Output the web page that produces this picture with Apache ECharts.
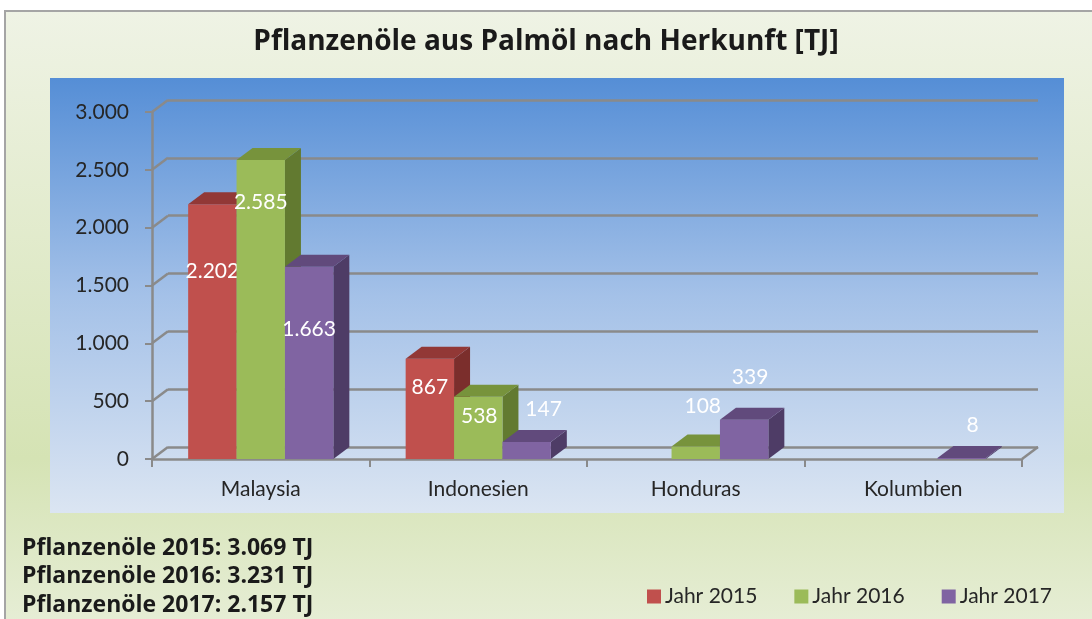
<!DOCTYPE html>
<html>
<head>
<meta charset="utf-8">
<title>Pflanzenöle aus Palmöl nach Herkunft</title>
<script src="https://cdn.jsdelivr.net/npm/echarts@6/dist/echarts.min.js"></script>
<style>
  html, body { margin: 0; padding: 0; background: #ffffff; }
  #chart { width: 1092px; height: 619px; }
</style>
</head>
<body>
<div id="chart"></div>
<script>
// Herkunftsländer und Werte in TJ
const categories = ['Malaysia', 'Indonesien', 'Honduras', 'Kolumbien'];
const seriesNames = ['Jahr 2015', 'Jahr 2016', 'Jahr 2017'];
const values2015 = [2202, 867, null, null];
const values2016 = [2585, 538, 108, null];
const values2017 = [1663, 147, 339, 8];
const yTickValues = [0, 500, 1000, 1500, 2000, 2500, 3000];
const footerYears = ['2015', '2016', '2017'];

// Darstellung
const fontFamily = 'Lato, "Open Sans", sans-serif';
const boldFamily = '"Open Sans", Lato, sans-serif';
const faceColors = [
  { front: '#c0504d', top: '#923836', side: '#7b2e2c' },
  { front: '#9bbb59', top: '#77933c', side: '#627a30' },
  { front: '#8064a2', top: '#614a7c', side: '#4e3c66' }
];
const depthX = 16;   // 3D-Tiefe nach rechts
const depthY = -12;  // 3D-Tiefe nach oben
const gridColor = '#8a8a8a';
// Verschiebung der Wertbeschriftung relativ zur Oberkante (Mitte der Vorderseite)
const labelNudge = [
  [[0, 67], [0, 29], null, null],
  [[0, 42], [1, 19], [7, -40], null],
  [[0, 63], [17, -33], [6, -43], [11, -33]]
];

const seriesValues = [values2015, values2016, values2017];

function formatDe(v) {
  return String(v).replace(/\B(?=(\d{3})+(?!\d))/g, '.');
}

function barRenderer(s) {
  return function (params, api) {
    const ci = api.value(0);
    const v = api.value(1);
    if (isNaN(v)) return null;
    const catW = api.size([1, 0])[0];
    const barW = catW * 0.2225;
    const base = api.coord([ci, 0]);
    const topPt = api.coord([ci, v]);
    const x0 = base[0] + (s - 1.5) * barW;
    const yTop = topPt[1];
    const yBase = base[1];
    const c = faceColors[s];
    const children = [
      {
        type: 'polygon',
        shape: { points: [[x0 + barW, yTop], [x0 + barW, yBase], [x0 + barW + depthX, yBase + depthY], [x0 + barW + depthX, yTop + depthY]] },
        style: { fill: c.side }
      },
      {
        type: 'rect',
        shape: { x: x0, y: yTop, width: barW, height: Math.max(yBase - yTop, 0.8) },
        style: { fill: c.front }
      },
      {
        type: 'polygon',
        shape: { points: [[x0, yTop], [x0 + barW, yTop], [x0 + barW + depthX, yTop + depthY], [x0 + depthX, yTop + depthY]] },
        style: { fill: c.top }
      }
    ];
    const nudge = labelNudge[s][ci] || [0, 20];
    children.push({
      type: 'text',
      x: x0 + barW / 2 + nudge[0],
      y: yTop + nudge[1],
      style: {
        text: formatDe(v),
        fill: '#ffffff',
        font: '21px ' + fontFamily,
        align: 'center',
        verticalAlign: 'middle'
      }
    });
    return { type: 'group', children: children };
  };
}

// Seitenwand- und Bodenkanten zwischen vorderer Achse und Rückwand
function wallRenderer(params, api) {
  const v = api.value(0);
  const cs = params.coordSys;
  const y = api.coord([0, v])[1];
  const lineStyle = { stroke: gridColor, lineWidth: 2.5 };
  const children = [{
    type: 'line',
    shape: { x1: cs.x, y1: y, x2: cs.x + depthX, y2: y + depthY },
    style: lineStyle
  }];
  if (v === 0) {
    children.push({
      type: 'line',
      shape: { x1: cs.x + cs.width, y1: y, x2: cs.x + cs.width + depthX, y2: y + depthY },
      style: lineStyle
    });
  }
  return { type: 'group', children: children };
}

const totals = seriesValues.map(arr => arr.reduce((a, b) => a + (b || 0), 0));

const chart = echarts.init(document.getElementById('chart'), null, { renderer: 'canvas' });

const frontGrid = { left: 152, right: 70, top: 112, bottom: 160 };
const backGrid = {
  left: frontGrid.left + depthX,
  right: frontGrid.right - depthX,
  top: frontGrid.top + depthY,
  bottom: frontGrid.bottom - depthY
};

const option = {
  animation: false,
  title: {
    text: 'Pflanzenöle aus Palmöl nach Herkunft [TJ]',
    left: 'center',
    top: 23,
    textStyle: { fontFamily: boldFamily, fontWeight: 'bold', fontSize: 28, color: '#1a1a1a' }
  },
  graphic: [
    {
      type: 'rect',
      z: -10,
      shape: { x: 5, y: 11, width: 1100, height: 620 },
      style: {
        stroke: '#a5a5a5',
        lineWidth: 2,
        fill: new echarts.graphic.LinearGradient(0, 0, 0, 1, [
          { offset: 0, color: '#eff3e5' },
          { offset: 0.72, color: '#d5e3b4' },
          { offset: 1, color: '#e7eed7' }
        ])
      }
    },
    {
      type: 'rect',
      z: -9,
      shape: { x: 50, y: 78, width: 1014, height: 435 },
      style: {
        fill: new echarts.graphic.LinearGradient(0, 0, 0, 1, [
          { offset: 0, color: '#558ed6' },
          { offset: 0.5, color: '#a4c1e8' },
          { offset: 1, color: '#dbe5f2' }
        ])
      }
    }
  ].concat(footerYears.map((yr, i) => ({
    type: 'text',
    x: 22,
    y: 548 + i * 28.5,
    style: {
      text: 'Pflanzenöle ' + yr + ': ' + formatDe(totals[i]) + ' TJ',
      fontFamily: boldFamily,
      fontWeight: 'bold',
      fontSize: 23,
      fill: '#1a1a1a',
      verticalAlign: 'middle'
    }
  }))),
  legend: {
    data: seriesNames,
    left: 642,
    top: 581,
    icon: 'rect',
    itemWidth: 14,
    itemHeight: 14,
    itemGap: 37,
    textStyle: { fontFamily: fontFamily, fontSize: 21, color: '#262626', padding: [0, 0, 0, -1] }
  },
  grid: [
    Object.assign({}, frontGrid),
    Object.assign({}, backGrid)
  ],
  xAxis: [
    {
      gridIndex: 0,
      type: 'category',
      data: categories,
      boundaryGap: true,
      axisLine: { show: true, lineStyle: { color: gridColor, width: 2.5 } },
      axisTick: { show: true, length: 8, interval: 0, lineStyle: { color: gridColor, width: 2 } },
      axisLabel: { margin: 20, fontFamily: fontFamily, fontSize: 21, color: '#262626' }
    },
    {
      gridIndex: 1,
      type: 'category',
      data: categories,
      show: false
    }
  ],
  yAxis: [
    {
      gridIndex: 0,
      type: 'value',
      min: yTickValues[0],
      max: yTickValues[yTickValues.length - 1],
      interval: yTickValues[1] - yTickValues[0],
      axisLine: { show: true, lineStyle: { color: gridColor, width: 2.5 } },
      axisTick: { show: true, length: 7, lineStyle: { color: gridColor, width: 2 } },
      splitLine: { show: false },
      axisLabel: {
        margin: 23,
        fontFamily: fontFamily,
        fontSize: 21,
        color: '#262626',
        formatter: v => formatDe(v)
      }
    },
    {
      gridIndex: 1,
      type: 'value',
      min: yTickValues[0],
      max: yTickValues[yTickValues.length - 1],
      interval: yTickValues[1] - yTickValues[0],
      axisLine: { show: false },
      axisTick: { show: false },
      axisLabel: { show: false },
      splitLine: { show: true, lineStyle: { color: gridColor, width: 2.5 } }
    }
  ],
  series: [
    {
      type: 'custom',
      name: 'walls',
      xAxisIndex: 0,
      yAxisIndex: 0,
      silent: true,
      z: 1,
      renderItem: wallRenderer,
      data: yTickValues.map(v => [v]),
      encode: { y: 0 },
      clip: false
    }
  ].concat(seriesNames.map((name, s) => ({
    type: 'custom',
    name: name,
    xAxisIndex: 0,
    yAxisIndex: 0,
    z: 3 + s,
    itemStyle: { color: faceColors[s].front },
    renderItem: barRenderer(s),
    data: seriesValues[s].map((v, i) => [i, v == null ? '-' : v]),
    encode: { x: 0, y: 1 },
    clip: false
  })))
};

chart.setOption(option);
</script>
</body>
</html>
